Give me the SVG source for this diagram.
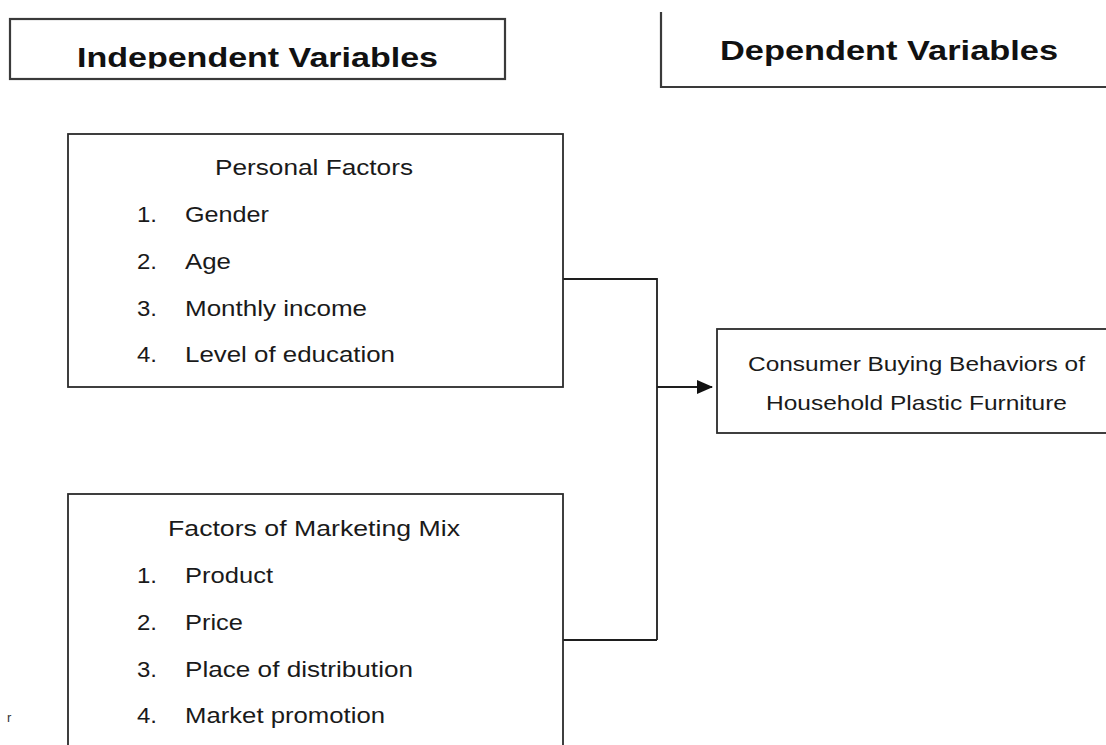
<svg xmlns="http://www.w3.org/2000/svg" width="1106" height="745" viewBox="0 0 1106 745">
<defs>
<style>
.box{fill:#fff;stroke:#2b2b2b;stroke-width:1.8}
.hbox{fill:none;stroke:#3a3a3a;stroke-width:2.2}
.head{font-family:"Liberation Sans",Arial,sans-serif;font-weight:bold;font-size:28px;fill:#111}
.t{font-family:"Liberation Sans",Arial,sans-serif;font-size:21.5px;fill:#1a1a1a}
.ts{font-family:"Liberation Sans",Arial,sans-serif;font-size:20.3px;fill:#1a1a1a}
.conn{fill:none;stroke:#1e1e1e;stroke-width:1.8}
</style>
<clipPath id="headclip"><rect x="0" y="0" width="520" height="68.5"/></clipPath>
<marker id="arr" viewBox="0 0 16 14" refX="15" refY="7" markerWidth="16" markerHeight="14" markerUnits="userSpaceOnUse" orient="auto">
<path d="M0,0 L16,7 L0,14 Z" fill="#111"/>
</marker>
</defs>
<rect width="1106" height="745" fill="#fff"/>

<g id="independent-header">
<rect class="hbox" x="10" y="19" width="495" height="60"/>
<text class="head" x="77" y="67" textLength="361" lengthAdjust="spacingAndGlyphs" clip-path="url(#headclip)">Independent Variables</text>
</g>

<g id="dependent-header">
<path class="hbox" d="M661,12 V87 H1106"/>
<text class="head" x="720" y="60" textLength="338" lengthAdjust="spacingAndGlyphs">Dependent Variables</text>
</g>

<g id="connectors">
<path class="conn" d="M557,279 H657 V640"/>
<path class="conn" d="M559,640 H657"/>
<path class="conn" d="M657,387 H712" marker-end="url(#arr)"/>
</g>

<g id="personal-factors">
<rect class="box" x="68" y="134" width="495" height="253"/>
<text class="t" x="215" y="175" textLength="198" lengthAdjust="spacingAndGlyphs">Personal Factors</text>
<text class="t" x="137" y="222" textLength="20" lengthAdjust="spacingAndGlyphs">1.</text>
<text class="t" x="185" y="222" textLength="84" lengthAdjust="spacingAndGlyphs">Gender</text>
<text class="t" x="137" y="269" textLength="20" lengthAdjust="spacingAndGlyphs">2.</text>
<text class="t" x="185" y="269" textLength="46" lengthAdjust="spacingAndGlyphs">Age</text>
<text class="t" x="137" y="316" textLength="20" lengthAdjust="spacingAndGlyphs">3.</text>
<text class="t" x="185" y="316" textLength="182" lengthAdjust="spacingAndGlyphs">Monthly income</text>
<text class="t" x="137" y="362" textLength="20" lengthAdjust="spacingAndGlyphs">4.</text>
<text class="t" x="185" y="362" textLength="210" lengthAdjust="spacingAndGlyphs">Level of education</text>
</g>

<g id="marketing-mix">
<rect class="box" x="68" y="494" width="495" height="270"/>
<text class="t" x="168" y="536" textLength="292" lengthAdjust="spacingAndGlyphs">Factors of Marketing Mix</text>
<text class="t" x="137" y="583" textLength="20" lengthAdjust="spacingAndGlyphs">1.</text>
<text class="t" x="185" y="583" textLength="88" lengthAdjust="spacingAndGlyphs">Product</text>
<text class="t" x="137" y="630" textLength="20" lengthAdjust="spacingAndGlyphs">2.</text>
<text class="t" x="185" y="630" textLength="58" lengthAdjust="spacingAndGlyphs">Price</text>
<text class="t" x="137" y="677" textLength="20" lengthAdjust="spacingAndGlyphs">3.</text>
<text class="t" x="185" y="677" textLength="228" lengthAdjust="spacingAndGlyphs">Place of distribution</text>
<text class="t" x="137" y="723" textLength="20" lengthAdjust="spacingAndGlyphs">4.</text>
<text class="t" x="185" y="723" textLength="200" lengthAdjust="spacingAndGlyphs">Market promotion</text>
</g>

<g id="consumer-behavior">
<rect class="box" x="717" y="329" width="400" height="104"/>
<text class="ts" x="748" y="370.5" textLength="337" lengthAdjust="spacingAndGlyphs">Consumer Buying Behaviors of</text>
<text class="ts" x="766" y="409.5" textLength="301" lengthAdjust="spacingAndGlyphs">Household Plastic Furniture</text>
</g>

<text x="7" y="722" font-family="Liberation Sans, Arial, sans-serif" font-size="13" fill="#333">r</text>
</svg>
